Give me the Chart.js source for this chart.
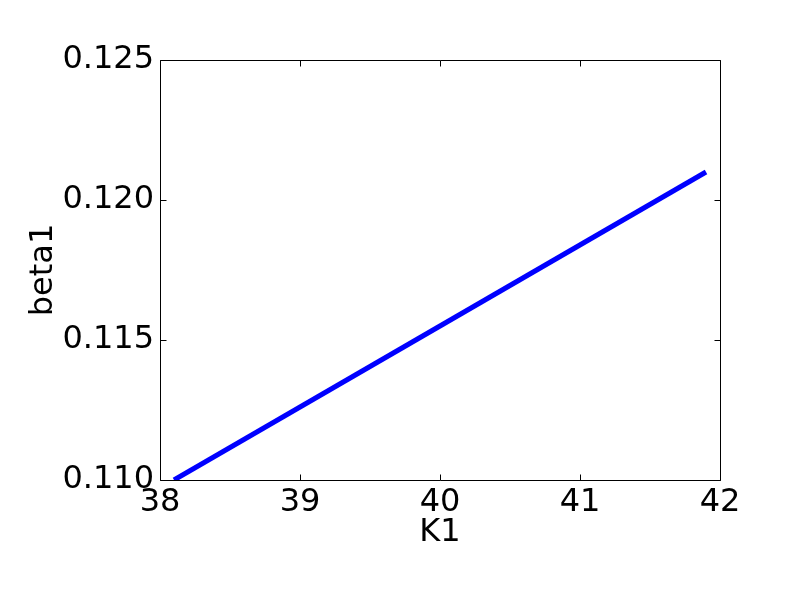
<!DOCTYPE html>
<html><head><meta charset="utf-8">
<script src="https://cdn.jsdelivr.net/npm/chart.js@4/dist/chart.umd.min.js"></script>
<style>html,body{margin:0;padding:0;background:#fff}#wrap{width:800px;height:600px}</style>
</head><body><div id="wrap"><canvas id="c" width="800" height="600"></canvas></div>
<script>
const K1 = [38.1, 40.0, 41.9];
const beta1 = [0.1100, 0.1155, 0.1210];
const xTicks = [38, 39, 40, 41, 42];
const yTicks = [0.110, 0.115, 0.120, 0.125];
const xLabel = 'K1';
const yLabel = 'beta1';

const FONT = 'DejaVu Sans';
const FS = 32;

const framePlugin = {
  id: 'frame',
  afterDraw(chart) {
    const {ctx, chartArea: a, scales: {x, y}} = chart;
    ctx.save();
    ctx.strokeStyle = '#000';
    ctx.lineWidth = 1;
    ctx.beginPath();
    const L = Math.round(a.left) + 0.5, R = Math.round(a.right) + 0.5;
    const T = Math.round(a.top) + 0.5, B = Math.round(a.bottom) + 0.5;
    ctx.rect(L, T, R - L, B - T);
    const tl = 6;
    xTicks.forEach(v => {
      const px = Math.round(x.getPixelForValue(v)) + 0.5;
      ctx.moveTo(px, B); ctx.lineTo(px, B - tl);
      ctx.moveTo(px, T); ctx.lineTo(px, T + tl);
    });
    yTicks.forEach(v => {
      const py = Math.round(y.getPixelForValue(v)) + 0.5;
      ctx.moveTo(L, py); ctx.lineTo(L + tl, py);
      ctx.moveTo(R, py); ctx.lineTo(R - tl, py);
    });
    ctx.stroke();
    ctx.restore();
  }
};

new Chart(document.getElementById('c'), {
  type: 'scatter',
  data: {
    datasets: [{
      data: K1.map((v, i) => ({x: v, y: beta1[i]})),
      showLine: true,
      borderColor: '#0000ff',
      borderWidth: 5,
      pointRadius: 0,
      fill: false,
      tension: 0
    }]
  },
  options: {
    responsive: false,
    animation: false,
    layout: {padding: {top: 60, right: 80, left: 0, bottom: 0}},
    plugins: {legend: {display: false}, tooltip: {enabled: false}},
    scales: {
      x: {
        type: 'linear', min: 38, max: 42,
        afterBuildTicks: s => { s.ticks = xTicks.map(v => ({value: v})); },
        afterFit: s => { s.height = 120; },
        grid: {display: false, drawTicks: false},
        border: {display: false},
        ticks: {padding: 3, color: '#000', font: {family: FONT, size: FS}, callback: v => String(v), maxRotation: 0, autoSkip: false},
        title: {display: true, text: xLabel, color: '#000', font: {family: FONT, size: FS}, padding: {top: 0, bottom: 48}}
      },
      y: {
        type: 'linear', min: 0.110, max: 0.125,
        afterBuildTicks: s => { s.ticks = yTicks.map(v => ({value: v})); },
        afterFit: s => { s.width = 160; },
        grid: {display: false, drawTicks: false},
        border: {display: false},
        ticks: {padding: 6, color: '#000', font: {family: FONT, size: FS}, callback: v => v.toFixed(3), autoSkip: false},
        title: {display: true, text: yLabel, color: '#000', font: {family: FONT, size: FS}, padding: {top: 24, bottom: 0}}
      }
    }
  },
  plugins: [framePlugin]
});
</script>
</body></html>
